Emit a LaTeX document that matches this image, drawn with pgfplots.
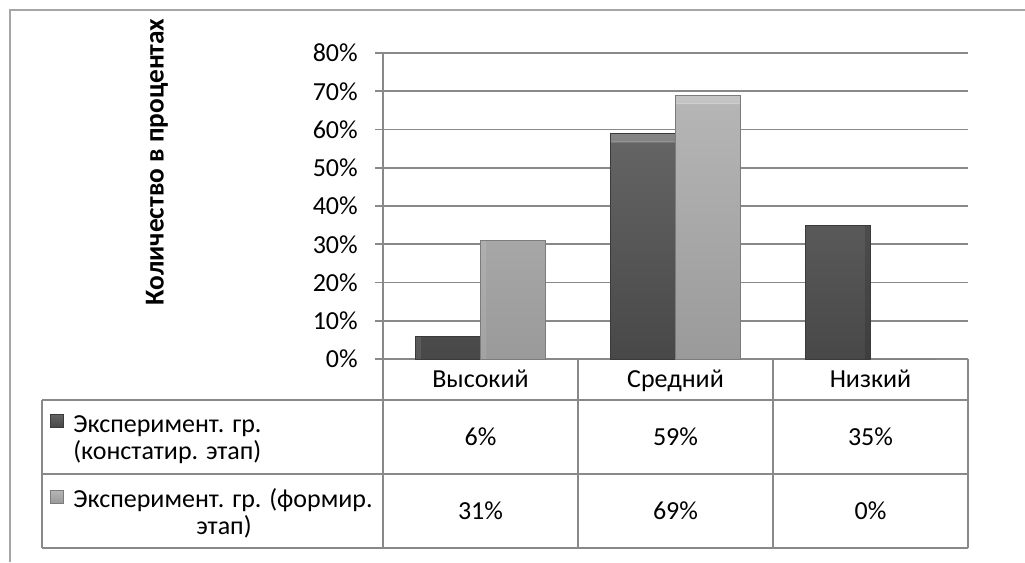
\documentclass[border=0pt]{standalone}
\usepackage{fontspec}
\setmainfont{Carlito}
\usepackage{pgfplots}
\pgfplotsset{compat=1.18}

\definecolor{gridgray}{HTML}{898989}
\definecolor{framegray}{HTML}{A6A6A6}
\definecolor{darktop}{HTML}{656565}
\definecolor{darkbot}{HTML}{484848}
\definecolor{darkedge}{HTML}{3A3A3A}
\definecolor{lighttop}{HTML}{B6B6B6}
\definecolor{lightbot}{HTML}{9A9A9A}
\definecolor{lightedge}{HTML}{7C7C7C}

\newif\ifinbevel
\newcommand\bevelcode{%
  \ifinbevel\else
  \inbeveltrue
  \fill[white,opacity=0.3] (path picture bounding box.north west) -- (path picture bounding box.north east)
    -- ([xshift=-6pt,yshift=-6.5pt]path picture bounding box.north east)
    -- ([xshift=6pt,yshift=-6.5pt]path picture bounding box.north west) -- cycle;
  \fill[black,opacity=0.15] ([xshift=-3.5pt]path picture bounding box.north east) rectangle (path picture bounding box.south east);
  \fill[white,opacity=0.1] (path picture bounding box.north west) rectangle ([xshift=3.5pt]path picture bounding box.south west);
  \fi}
\pgfplotsset{bevel/.style={path picture={\bevelcode}}}

\begin{document}
\begin{tikzpicture}[font=\fontsize{19.5}{23}\selectfont]
\useasboundingbox (0,0) rectangle (768.75pt,421.5pt);
\begin{axis}[
  at={(287.25pt,152.25pt)}, anchor=south west,
  scale only axis, width=438.75pt, height=229.5pt,
  xmin=-0.5, xmax=2.5, ymin=0, ymax=80,
  axis y line=left, axis x line=bottom,
  axis line style={draw=gridgray, line width=1.2pt, -},
  xtick=\empty,
  ytick={0,10,...,80},
  yticklabel={\pgfmathprintnumber{\tick}\%},
  /pgf/number format/assume math mode=true,
  tick align=outside, major tick length=6pt,
  tick style={draw=gridgray, line width=1.2pt},
  ymajorgrids, major grid style={draw=gridgray, line width=1.2pt},
  yticklabel style={anchor=east, inner sep=0pt, xshift=-12.75pt},
  clip=false,
]
% Эксперимент. гр. (констатир. этап)
\addplot[ybar, bar width=0.3333, bar shift=-0.16667, draw=darkedge, line width=0.6pt,
  top color=darktop, bottom color=darkbot, bevel]
  coordinates {(0,6) (1,59) (2,35)};
% Эксперимент. гр. (формир. этап)
\addplot[ybar, bar width=0.3333, bar shift=0.16667, draw=lightedge, line width=0.6pt,
  top color=lighttop, bottom color=lightbot, bevel]
  coordinates {(0,31) (1,69) (2,0)};
\end{axis}

\begin{scope}[x=0.75pt, y=-0.75pt, yshift=421.5pt, every node/.style={inner sep=0pt}]
  % chart frame
  \draw[framegray, line width=1.5pt] (10,562) -- (10,10) -- (1025,10);
  % data table
  \draw[gridgray, line width=1.2pt]
    (42,400) -- (968,400)
    (42,474) -- (968,474)
    (42,548) -- (968,548)
    (42,400) -- (42,548)
    (383,359) -- (383,548)
    (578,359) -- (578,548)
    (773,359) -- (773,548)
    (968,359) -- (968,548);
  \node[anchor=base] at (480.5,387) {Высокий};
  \node[anchor=base] at (675.5,387) {Средний};
  \node[anchor=base] at (870.5,387) {Низкий};
  \node[anchor=base] at (480.5,445) {6\%};
  \node[anchor=base] at (675.5,445) {59\%};
  \node[anchor=base] at (870.5,445) {35\%};
  \node[anchor=base] at (480.5,519) {31\%};
  \node[anchor=base] at (675.5,519) {69\%};
  \node[anchor=base] at (870.5,519) {0\%};
  \fill[top color=darktop, bottom color=darkbot, draw=darkedge] (50,414) rectangle (63,427);
  \fill[top color=lighttop, bottom color=lightbot, draw=lightedge] (50,490) rectangle (63,503);
  \node[anchor=base west] at (73,432) {Эксперимент. гр.};
  \node[anchor=base west] at (73,459) {(констатир. этап)};
  \node[anchor=base west] at (73,507) {Эксперимент. гр. (формир.};
  \node[anchor=base] at (224,534) {этап)};
  % axis title
  \node[rotate=90, font=\fontsize{20.5}{24}\selectfont\bfseries] at (157,162) {Количество в процентах};
\end{scope}
\end{tikzpicture}
\end{document}
